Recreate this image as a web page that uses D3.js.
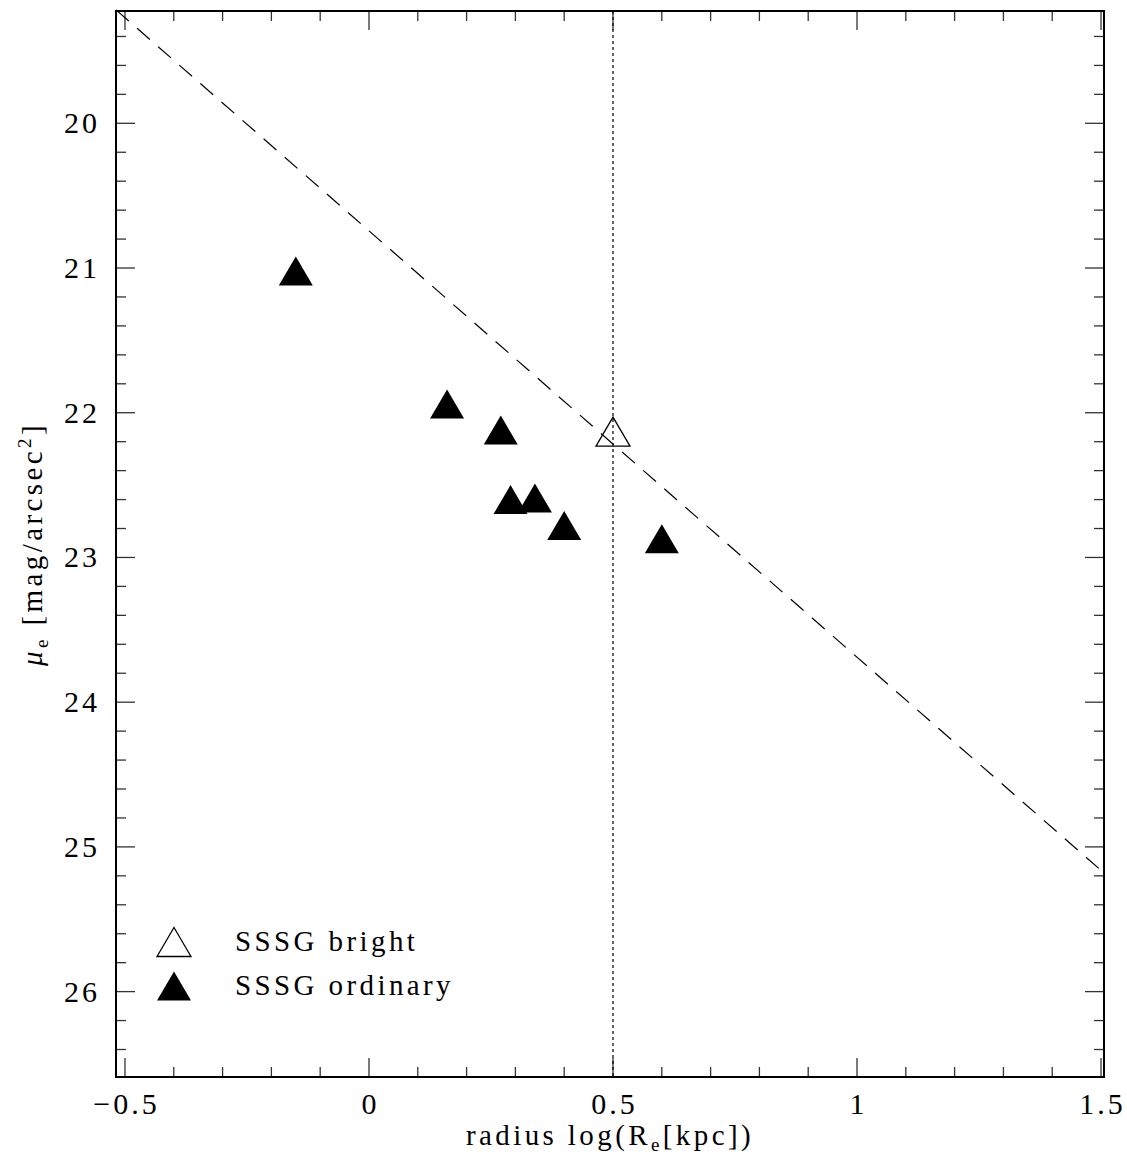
<!DOCTYPE html>
<html>
<head>
<meta charset="utf-8">
<script src="https://cdn.jsdelivr.net/npm/d3@7"></script>
<style>
  body { margin: 0; background: #fff; }
  text { font-family: "Liberation Serif", "DejaVu Serif", serif; fill: #000; }
</style>
</head>
<body>
<div id="chart"></div>
<script>
// values
var ordinaryX = [-0.15, 0.16, 0.27, 0.29, 0.34, 0.40, 0.60];
var ordinaryY = [21.02, 21.94, 22.12, 22.60, 22.59, 22.78, 22.87];
var brightX = [0.5];
var brightY = [22.13];
var fitLineX = [-0.5184, 1.5061];
var fitLineY = [19.216, 25.18];
var cutX = 0.5;

var xMajor = [-0.5, 0, 0.5, 1, 1.5];
var xLabels = ["\u22120.5", "0", "0.5", "1", "1.5"];
var yMajor = [20, 21, 22, 23, 24, 25, 26];
var yLabels = ["20", "21", "22", "23", "24", "25", "26"];
var legendNames = ["SSSG bright", "SSSG ordinary"];

var W = 1127, H = 1162;
var margin = { top: 11, right: 23, bottom: 85, left: 116 };
var width = W - margin.left - margin.right;
var height = H - margin.top - margin.bottom;

var svg = d3.select("#chart").append("svg")
    .attr("width", W)
    .attr("height", H);

var g = svg.append("g")
    .attr("transform", "translate(" + margin.left + "," + margin.top + ")");

var x = d3.scaleLinear().domain([-0.5184, 1.5061]).range([0, width]);
var y = d3.scaleLinear().domain([19.224, 26.59]).range([0, height]);

// minor tick positions
var xMinor = d3.range(-5, 16).map(function(i) { return i / 10; })
    .filter(function(v) { return xMajor.indexOf(v) < 0; });
var yMinor = d3.range(96, 133).map(function(i) { return i / 5; })
    .filter(function(v) { return yMajor.indexOf(v) < 0 && v > 19.224 && v < 26.59; });

var majorLen = 19, minorLen = 10;

// ticks go inward on all four sides
var ticks = g.append("g").attr("stroke", "#333").attr("stroke-width", 1.3);

function tickLines(vals, len, horizontal) {
    vals.forEach(function(v) {
        if (horizontal) {
            ticks.append("line").attr("x1", x(v)).attr("x2", x(v))
                .attr("y1", height).attr("y2", height - len);
            ticks.append("line").attr("x1", x(v)).attr("x2", x(v))
                .attr("y1", 0).attr("y2", len);
        } else {
            ticks.append("line").attr("y1", y(v)).attr("y2", y(v))
                .attr("x1", 0).attr("x2", len);
            ticks.append("line").attr("y1", y(v)).attr("y2", y(v))
                .attr("x1", width).attr("x2", width - len);
        }
    });
}

tickLines(xMajor, majorLen, true);
tickLines(xMinor, minorLen, true);
tickLines(yMajor, majorLen, false);
tickLines(yMinor, minorLen, false);

// frame
g.append("rect")
    .attr("width", width)
    .attr("height", height)
    .attr("fill", "none")
    .attr("stroke", "#000")
    .attr("stroke-width", 2);

// tick labels
g.selectAll(".xlab")
    .data(xMajor)
    .enter().append("text")
    .attr("class", "xlab")
    .attr("x", function(d) { return x(d) + 1.5; })
    .attr("y", height + 37)
    .attr("text-anchor", "middle")
    .style("font-size", "30px")
    .style("letter-spacing", "3px")
    .text(function(d, i) { return xLabels[i]; });

g.selectAll(".ylab")
    .data(yMajor)
    .enter().append("text")
    .attr("class", "ylab")
    .attr("x", -16)
    .attr("y", function(d) { return y(d) + 10; })
    .attr("text-anchor", "end")
    .style("font-size", "30px")
    .style("letter-spacing", "3px")
    .text(function(d, i) { return yLabels[i]; });

// axis titles
var xt = svg.append("text")
    .attr("x", margin.left + width / 2)
    .attr("y", 1145)
    .attr("text-anchor", "middle")
    .style("font-size", "29px")
    .style("letter-spacing", "3.4px");
xt.append("tspan").text("radius log(R");
xt.append("tspan").attr("dy", 6).style("font-size", "19px").text("e");
xt.append("tspan").attr("dy", -6).text("[kpc])");

var yt = svg.append("text")
    .attr("transform", "translate(42," + (margin.top + height / 2) + ") rotate(-90)")
    .attr("text-anchor", "middle")
    .style("font-size", "29px")
    .style("letter-spacing", "3.4px");
yt.append("tspan").style("font-style", "italic").text("\u03bc");
yt.append("tspan").attr("dy", 6).style("font-size", "19px").text("e");
yt.append("tspan").attr("dy", -6).text(" [mag/arcsec");
yt.append("tspan").attr("dy", -11).style("font-size", "19px").text("2");
yt.append("tspan").attr("dy", 11).text("]");

// dashed relation and dotted cut
g.append("line")
    .attr("x1", x(fitLineX[0])).attr("y1", y(fitLineY[0]))
    .attr("x2", x(fitLineX[1])).attr("y2", y(fitLineY[1]))
    .attr("stroke", "#000")
    .attr("stroke-width", 1.2)
    .attr("stroke-dasharray", "17,11");

g.append("line")
    .attr("x1", x(cutX)).attr("x2", x(cutX))
    .attr("y1", 0).attr("y2", height)
    .attr("stroke", "#000")
    .attr("stroke-width", 1.2)
    .attr("stroke-dasharray", "3,3");

// triangle marker, centred on its bounding box
var tri = "M0,-14.5L17,14.5L-17,14.5Z";

g.selectAll(".ord")
    .data(ordinaryX)
    .enter().append("path")
    .attr("class", "ord")
    .attr("d", tri)
    .attr("transform", function(d, i) { return "translate(" + x(d) + "," + y(ordinaryY[i]) + ")"; })
    .attr("fill", "#000");

g.selectAll(".bri")
    .data(brightX)
    .enter().append("path")
    .attr("class", "bri")
    .attr("d", tri)
    .attr("transform", function(d, i) { return "translate(" + x(d) + "," + y(brightY[i]) + ")"; })
    .attr("fill", "none")
    .attr("stroke", "#000")
    .attr("stroke-width", 1.3);

// legend
var legend = svg.append("g").attr("transform", "translate(174,942)");
legend.append("path").attr("d", tri)
    .attr("fill", "none").attr("stroke", "#000").attr("stroke-width", 1.3);
legend.append("path").attr("d", tri).attr("transform", "translate(0,44)")
    .attr("fill", "#000");
legend.selectAll("text")
    .data(legendNames)
    .enter().append("text")
    .attr("x", 61)
    .attr("y", function(d, i) { return 9 + i * 44; })
    .style("font-size", "29px")
    .style("letter-spacing", "3.4px")
    .text(function(d) { return d; });
</script>
</body>
</html>
